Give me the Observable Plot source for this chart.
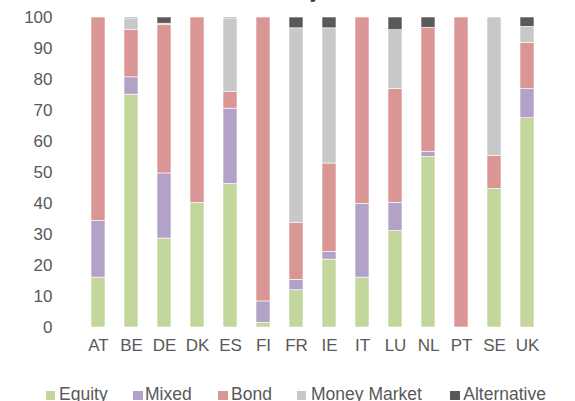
<!DOCTYPE html>
<html>
<head>
<meta charset="utf-8">
<script src="https://cdn.jsdelivr.net/npm/d3@7"></script>
<script src="https://cdn.jsdelivr.net/npm/@observablehq/plot@0.6"></script>
<style>
  html, body { margin: 0; padding: 0; background: #fff; }
  #wrap { position: relative; width: 575px; height: 401px; overflow: hidden; font-family: "Liberation Sans", Arial, sans-serif; color: #595959; }
  #title { position: absolute; left: 28px; top: -18px; font-size: 19.5px; line-height: 19.5px; font-weight: bold; color: #404040; white-space: nowrap; }
  #chart { position: absolute; left: 0; top: 0; }
  .lg-sq { position: absolute; width: 9.5px; height: 9.5px; top: 390.5px; }
  .lg-tx { position: absolute; top: 385.8px; font-size: 17.5px; line-height: 17.5px; white-space: nowrap; color: #595959; }
</style>
</head>
<body>
<div id="wrap">
  <div id="title">Distribution of asset classes by Member State in %</div>
  <div id="chart"></div>
  <div id="legend"></div>
</div>
<script>
const countries = ["AT","BE","DE","DK","ES","FI","FR","IE","IT","LU","NL","PT","SE","UK"];
const seriesNames = ["Equity","Mixed","Bond","Money Market","Alternative"];
const seriesColors = ["#c3d69b","#b3a2c7","#d99694","#c8c8c8","#595959"];
const equity      = [16.1, 75.1, 28.7, 40.2, 46.3,  1.5, 12.0, 21.9, 16.1, 31.1, 55.0,   0, 44.7, 67.5];
const mixed       = [18.3,  5.6, 21.0,    0, 24.3,  6.9,  3.4,  2.5, 23.8,  9.1,  1.7,   0,    0,  9.4];
const bond        = [65.6, 15.2, 47.8, 59.8,  5.3, 91.6, 18.4, 28.5, 60.1, 36.7, 40.0, 100, 10.7, 14.9];
const moneyMarket = [   0,  3.8,  0.5,    0, 23.8,    0, 62.7, 43.6,    0, 19.0,    0,   0, 44.6,  5.2];
const alternative = [   0,  0.3,  2.0,    0,  0.3,    0,  3.5,  3.5,    0,  4.1,  3.3,   0,    0,  3.0];
const yTicks = [0,10,20,30,40,50,60,70,80,90,100];

const seriesValues = [equity, mixed, bond, moneyMarket, alternative];
const data = [];
seriesNames.forEach((s, i) => {
  countries.forEach((c, j) => {
    data.push({country: c, series: s, value: seriesValues[i][j]});
  });
});

const chart = Plot.plot({
  width: 575,
  height: 360,
  marginLeft: 68,
  marginRight: 17.5,
  marginTop: 17,
  marginBottom: 33,
  style: {fontFamily: '"Liberation Sans", Arial, sans-serif', fontSize: "17px", color: "#595959", background: "transparent"},
  x: {domain: countries, padding: 0.57, label: null, tickSize: 0, tickPadding: 11},
  y: {domain: [0, 100], ticks: yTicks, label: null, tickSize: 0, tickPadding: 16},
  color: {domain: seriesNames, range: seriesColors},
  marks: [
    Plot.barY(data, {x: "country", y: "value", fill: "series", stroke: "white", strokeWidth: 0.6})
  ]
});
document.getElementById("chart").appendChild(chart);

// legend
const sqLeft = [45.7, 133.3, 218, 296.7, 450];
const txLeft = [59, 145, 231, 311, 463.3];
const legend = document.getElementById("legend");
seriesNames.forEach((s, i) => {
  const sq = document.createElement("div");
  sq.className = "lg-sq";
  sq.style.left = sqLeft[i] + "px";
  sq.style.background = seriesColors[i];
  legend.appendChild(sq);
  const tx = document.createElement("div");
  tx.className = "lg-tx";
  tx.style.left = txLeft[i] + "px";
  tx.textContent = s;
  legend.appendChild(tx);
});
</script>
</body>
</html>
